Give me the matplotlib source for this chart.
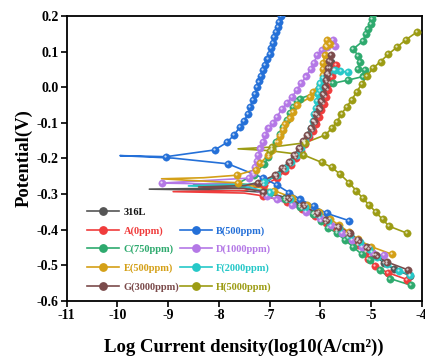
import matplotlib
matplotlib.use('Agg')
import matplotlib.pyplot as plt
from matplotlib.transforms import offset_copy
from matplotlib.lines import Line2D

plt.rcParams['font.family'] = ['Liberation Serif', 'DejaVu Serif']
plt.rcParams['font.weight'] = 'bold'
plt.rcParams['axes.unicode_minus'] = False

# --- data: cathodic branch (from Ecorr outward), spike, anodic branch ---
# 316L
s316_cx = [-7.1, -6.7, -6.4, -6.12, -5.9, -5.68, -5.47, -5.28, -5.1, -4.93, -4.75, -4.55, -4.22]
s316_cy = [-0.295, -0.31, -0.33, -0.352, -0.372, -0.392, -0.412, -0.432, -0.452, -0.472, -0.492, -0.51, -0.529]
s316_tx = [-7.6, -9.37, -7.6]
s316_ty = [-0.290, -0.286, -0.283]
s316_ax = [-7.15, -6.88, -6.72, -6.6, -6.5, -6.4, -6.32, -6.24, -6.17, -6.11, -6.06, -6.01, -5.97, -5.93,
           -5.89, -5.86, -5.83, -5.8, -5.78]
s316_ay = [-0.27, -0.25, -0.231, -0.212, -0.193, -0.174, -0.155, -0.136, -0.117, -0.098, -0.079, -0.06, -0.041,
           -0.022, -0.003, 0.016, 0.035, 0.054, 0.072]

# A(0ppm)
a_cx = [-7.12, -6.66, -6.35, -6.1, -5.88, -5.66, -5.45, -5.26, -5.1, -5.05, -4.92, -4.67, -4.28]
a_cy = [-0.305, -0.322, -0.342, -0.362, -0.382, -0.402, -0.422, -0.442, -0.462, -0.482, -0.502, -0.52, -0.54]
a_tx = [-7.5, -8.9, -7.5]
a_ty = [-0.297, -0.293, -0.29]
a_ax = [-7.1, -6.85, -6.7, -6.58, -6.48, -6.38, -6.3, -6.22, -6.15, -6.09, -6.03, -5.98, -5.93, -5.89,
        -5.85, -5.81, -5.77, -5.73, -5.69]
a_ay = [-0.275, -0.255, -0.236, -0.217, -0.198, -0.179, -0.16, -0.141, -0.122, -0.103, -0.084, -0.065,
        -0.046, -0.027, -0.008, 0.011, 0.03, 0.047, 0.062]

# B(500ppm)
b_cx = [-7.82, -7.12, -6.86, -6.61, -6.39, -6.13, -5.87, -5.44]
b_cy = [-0.215, -0.255, -0.274, -0.296, -0.315, -0.333, -0.354, -0.374]
b_tx = [-8.9, -9.95]
b_ty = [-0.199, -0.192]
b_ax = [-9.04, -8.08, -7.84, -7.70, -7.59, -7.50, -7.43, -7.38, -7.33, -7.28, -7.24, -7.20, -7.16, -7.12,
        -7.09, -7.04, -7.0, -6.97, -6.93, -6.91, -6.88, -6.84, -6.81, -6.77, -6.73]
b_ay = [-0.195, -0.176, -0.155, -0.134, -0.113, -0.095, -0.076, -0.056, -0.036, -0.019, 0.0, 0.016, 0.032,
        0.047, 0.062, 0.078, 0.093, 0.109, 0.125, 0.142, 0.156, 0.170, 0.184, 0.199, 0.215]

# C(750ppm)
c_cx = [-7.0, -6.7, -6.4, -6.15, -5.98, -5.84, -5.67, -5.51, -5.35, -5.18, -5.02, -4.82, -4.62, -4.2]
c_cy = [-0.297, -0.315, -0.335, -0.355, -0.375, -0.394, -0.41, -0.429, -0.448, -0.469, -0.485, -0.513,
        -0.537, -0.556]
c_tx = [-7.6, -8.5, -7.6]
c_ty = [-0.276, -0.272, -0.268]
c_ax = [-7.3, -7.1, -7.02, -6.96, -6.88, -6.8, -6.73, -6.66, -6.6, -6.53, -6.45, -6.4, -6.0, -5.74, -5.45,
        -5.15, -5.12, -5.25, -5.21, -5.25, -5.35, -5.15, -5.1, -5.05, -5.0, -4.98, -4.96]
c_ay = [-0.245, -0.215, -0.195, -0.174, -0.153, -0.132, -0.111, -0.092, -0.073, -0.055, -0.04, -0.032,
        -0.012, 0.011, 0.02, 0.03, 0.048, 0.052, 0.072, 0.088, 0.107, 0.13, 0.149, 0.163, 0.177, 0.19, 0.205]

# D(1000ppm)
d_cx = [-7.05, -6.86, -6.56, -6.28, -6.0, -5.78, -5.57, -5.37, -5.17, -4.98, -4.75]
d_cy = [-0.305, -0.315, -0.331, -0.35, -0.368, -0.388, -0.408, -0.428, -0.448, -0.463, -0.472]
d_tx = [-7.5]
d_ty = [-0.273]
d_ax = [-9.13, -7.4, -7.33, -7.29, -7.25, -7.22, -7.18, -7.13, -7.08, -7.02, -6.93, -6.85, -6.76, -6.66,
        -6.56, -6.46, -6.37, -6.28, -6.19, -6.12, -6.06, -5.97, -5.86, -5.74, -5.71]
d_ay = [-0.269, -0.255, -0.24, -0.223, -0.206, -0.19, -0.172, -0.153, -0.134, -0.115, -0.1, -0.083, -0.062,
        -0.045, -0.028, -0.008, 0.011, 0.03, 0.05, 0.069, 0.09, 0.103, 0.114, 0.133, 0.115]

# E(500ppm)
e_cx = [-7.63, -6.91, -6.55, -6.27, -6.02, -5.8, -5.62, -5.44, -5.26, -5.0, -4.58]
e_cy = [-0.268, -0.29, -0.31, -0.33, -0.35, -0.37, -0.388, -0.406, -0.427, -0.447, -0.469]
e_tx = [-8.5, -9.13, -8.3]
e_ty = [-0.262, -0.257, -0.254]
e_ax = [-7.65, -7.27, -7.19, -7.02, -6.96, -6.83, -6.79, -6.74, -6.7, -6.6, -6.53, -6.45, -6.2, -6.15,
        -6.0, -5.94, -5.95, -5.95, -5.9, -5.88, -5.86, -5.8]
e_ay = [-0.247, -0.231, -0.214, -0.19, -0.176, -0.153, -0.137, -0.12, -0.103, -0.087, -0.069, -0.05,
        -0.028, -0.013, 0.01, 0.034, 0.05, 0.067, 0.09, 0.115, 0.133, 0.12]

# F(2000ppm)
f_cx = [-7.0, -6.6, -6.3, -6.05, -5.85, -5.62, -5.42, -5.22, -5.04, -4.87, -4.68, -4.45, -4.22]
f_cy = [-0.295, -0.315, -0.335, -0.355, -0.375, -0.395, -0.415, -0.435, -0.455, -0.475, -0.497, -0.515,
        -0.526]
f_tx = [-7.4, -8.6, -7.4]
f_ty = [-0.281, -0.277, -0.272]
f_ax = [-7.1, -6.85, -6.7, -6.57, -6.46, -6.37, -6.3, -6.24, -6.19, -6.15, -6.12, -6.09, -6.06, -6.04,
        -6.02, -6.0, -5.95, -5.85, -5.71, -5.6, -5.45]
f_ay = [-0.265, -0.247, -0.228, -0.209, -0.19, -0.171, -0.152, -0.133, -0.114, -0.095, -0.076, -0.057,
        -0.038, -0.019, -0.002, 0.012, 0.025, 0.04, 0.048, 0.045, 0.042]

# G(3000ppm)
g_cx = [-7.12, -6.63, -6.33, -6.07, -5.88, -5.64, -5.41, -5.25, -5.07, -4.9, -4.69, -4.26]
g_cy = [-0.293, -0.312, -0.331, -0.354, -0.373, -0.392, -0.41, -0.429, -0.448, -0.471, -0.49, -0.513]
g_tx = [-7.5, -8.4, -7.5]
g_ty = [-0.284, -0.28, -0.276]
g_ax = [-7.22, -6.9, -6.75, -6.62, -6.52, -6.42, -6.34, -6.26, -6.19, -6.13, -6.08, -6.03, -5.99, -5.95,
        -5.91, -5.88, -5.86, -5.84, -5.82, -5.79]
g_ay = [-0.268, -0.247, -0.228, -0.209, -0.19, -0.171, -0.152, -0.133, -0.114, -0.095, -0.076, -0.057,
        -0.038, -0.019, 0.0, 0.019, 0.037, 0.055, 0.073, 0.09]

# H(5000ppm)
h_cx = [-7.0, -6.33, -5.97, -5.77, -5.61, -5.43, -5.29, -5.16, -5.03, -4.9, -4.77, -4.64, -4.28]
h_cy = [-0.178, -0.19, -0.211, -0.225, -0.244, -0.268, -0.29, -0.312, -0.331, -0.351, -0.371, -0.39, -0.41]
h_tx = [-7.62]
h_ty = [-0.173]
h_ax = [-6.95, -6.3, -5.9, -5.77, -5.67, -5.58, -5.48, -5.38, -5.28, -5.18, -5.08, -4.96, -4.81, -4.66,
        -4.49, -4.31, -4.1]
h_ay = [-0.168, -0.156, -0.134, -0.115, -0.097, -0.075, -0.055, -0.036, -0.013, 0.009, 0.031, 0.053, 0.072,
        0.092, 0.112, 0.133, 0.154]

labels = ['316L', 'A(0ppm)', 'B(500ppm)', 'C(750ppm)', 'D(1000ppm)', 'E(500ppm)', 'F(2000ppm)',
          'G(3000ppm)', 'H(5000ppm)']
colors = ['#555555', '#f03c3c', '#2470d8', '#2eaa6e', '#b478e6', '#d4a017', '#26c8c8', '#7b4b4b', '#9c9c14']
text_colors = ['#111111'] + colors[1:]

series = [
    (s316_cx, s316_cy, s316_tx, s316_ty, s316_ax, s316_ay),
    (a_cx, a_cy, a_tx, a_ty, a_ax, a_ay),
    (b_cx, b_cy, b_tx, b_ty, b_ax, b_ay),
    (c_cx, c_cy, c_tx, c_ty, c_ax, c_ay),
    (d_cx, d_cy, d_tx, d_ty, d_ax, d_ay),
    (e_cx, e_cy, e_tx, e_ty, e_ax, e_ay),
    (f_cx, f_cy, f_tx, f_ty, f_ax, f_ay),
    (g_cx, g_cy, g_tx, g_ty, g_ax, g_ay),
    (h_cx, h_cy, h_tx, h_ty, h_ax, h_ay),
]

fig = plt.figure(figsize=(4.25, 3.61), dpi=100)
ax = fig.add_axes([0.157, 0.166, 0.835, 0.790])
hl = offset_copy(ax.transData, fig=fig, x=-0.7, y=0.7, units='points')

handles = []
for (cx, cy, tx, ty, axx, ay), col in zip(series, colors):
    lx = cx[::-1] + tx + axx
    ly = cy[::-1] + ty + ay
    ax.plot(lx, ly, color=col, lw=1.2, zorder=2)
    ax.plot(cx + axx, cy + ay, ls='none', marker='o', ms=5.3, mfc=col, mec=col, mew=0.3, zorder=3)
    ax.plot(cx + axx, cy + ay, ls='none', marker='o', ms=1.6, mfc='white', mec='none', alpha=0.7,
            transform=hl, zorder=4)
    handles.append(Line2D([], [], color=col, lw=1.2, marker='o', ms=5.3, mfc=col, mec=col))

ax.set_xlim(-11, -4)
ax.set_ylim(-0.6, 0.2)
ax.set_xticks(range(-11, -3))
ax.set_xticklabels([str(v) for v in range(-11, -3)])
ax.set_yticks([0.2, 0.1, 0.0, -0.1, -0.2, -0.3, -0.4, -0.5, -0.6])
ax.set_yticklabels(['0.2', '0.1', '0.0', '-0.1', '-0.2', '-0.3', '-0.4', '-0.5', '-0.6'])
ax.tick_params(direction='out', length=4, width=1.2, labelsize=10, pad=2)
for sp in ax.spines.values():
    sp.set_linewidth(1.3)

ax.set_xlabel('Log Current density(log10(A/cm²))', fontsize=13.5, fontweight='bold', labelpad=12)
ax.set_ylabel('Potential(V)', fontsize=13.5, fontweight='bold', labelpad=3)

blank = Line2D([], [], color='none')
order = [0, 1, 3, 5, 7, None, 2, 4, 6, 8]
leg_h = [handles[i] if i is not None else blank for i in order]
leg_l = [labels[i] if i is not None else '' for i in order]
leg = ax.legend(leg_h, leg_l, loc='upper left', bbox_to_anchor=(0.057, 0.328), ncol=2, frameon=False,
                fontsize=7.5, handlelength=3.1, handletextpad=0.4, columnspacing=0.05,
                labelspacing=0.88, borderpad=0, borderaxespad=0)
for txt, i in zip(leg.get_texts(), order):
    if i is not None:
        txt.set_color(text_colors[i])

fig.savefig('out.png', dpi=100)
